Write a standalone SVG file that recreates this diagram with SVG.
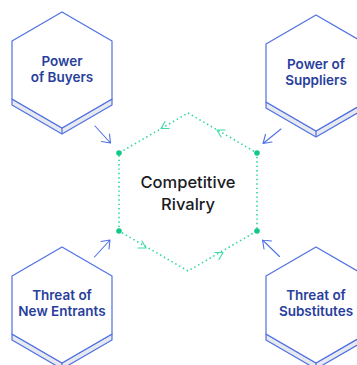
<svg xmlns="http://www.w3.org/2000/svg" width="357" height="365" viewBox="0 0 357 365">
  <style>
    .hex { fill: #ffffff; stroke: #4f71e3; stroke-width: 1.2; stroke-linejoin: round; }
    .base { fill: #e7e9ef; stroke: #4f71e3; stroke-width: 1.2; stroke-linejoin: round; }
    .label { font-family: Inter, "Liberation Sans", sans-serif; font-size: 13.5px; font-weight: 600; fill: #283e9c; text-anchor: middle; }
    .title { font-family: Inter, "Liberation Sans", sans-serif; font-size: 16.5px; font-weight: 500; fill: #1b1b1f; text-anchor: middle; }
    .ring { fill: none; stroke: #27d69d; stroke-width: 1.6; stroke-dasharray: 1.4 3; stroke-linecap: butt; }
    .chev { fill: none; stroke: #3ddba6; stroke-width: 1.1; stroke-linecap: round; stroke-linejoin: round; }
    .force { fill: none; stroke: #4f71e3; stroke-width: 1.1; stroke-linecap: round; stroke-linejoin: round; }
    .dot { fill: #14c985; }
  </style>
  <defs>
    <!-- hexagon tile with a thin extruded base, centred on 0,0 -->
    <g id="tile">
      <polygon class="base" points="-50,29 0,58 50,29 50,35 0,64 -50,35"/>
      <line x1="0" y1="58" x2="0" y2="64" stroke="#4f71e3" stroke-width="1.2"/>
      <polygon class="hex" points="0,-58 50,-29 50,29 0,58 -50,29 -50,-29"/>
    </g>
    <!-- open chevron pointing along +x -->
    <path id="chevron" class="chev" d="M-7,-4 L0,0 L-7,4"/>
  </defs>

  <g id="buyers">
    <use href="#tile" transform="translate(62,70)"/>
    <text class="label" x="62" y="66">Power</text>
    <text class="label" x="62" y="82">of Buyers</text>
  </g>

  <g id="suppliers">
    <use href="#tile" transform="translate(316,73)"/>
    <text class="label" x="316" y="69">Power of</text>
    <text class="label" x="316" y="85">Suppliers</text>
  </g>

  <g id="new-entrants">
    <use href="#tile" transform="translate(62,305)"/>
    <text class="label" x="62" y="300">Threat of</text>
    <text class="label" x="62" y="316">New Entrants</text>
  </g>

  <g id="substitutes">
    <use href="#tile" transform="translate(316,305)"/>
    <text class="label" x="316" y="300">Threat of</text>
    <text class="label" x="316" y="316">Substitutes</text>
  </g>

  <g id="rivalry">
    <polygon class="ring" points="188,113 257,153 257,231 188,271 119,231 119,153"/>
    <circle class="dot" cx="119" cy="153" r="2.8"/>
    <circle class="dot" cx="257" cy="153" r="2.8"/>
    <circle class="dot" cx="119" cy="231" r="2.8"/>
    <circle class="dot" cx="257" cy="231" r="2.8"/>
    <text class="title" x="188" y="187.5">Competitive</text>
    <text class="title" x="188" y="209.5">Rivalry</text>
  </g>

  <g id="connectors">
    <!-- flow markers around the rivalry ring -->
    <use href="#chevron" transform="translate(161,128.5) rotate(150)"/>
    <use href="#chevron" transform="translate(217,130) rotate(210)"/>
    <use href="#chevron" transform="translate(146,248) rotate(30)"/>
    <use href="#chevron" transform="translate(223,252.5) rotate(-30)"/>
    <!-- forces pointing at the ring -->
    <path class="force" d="M95,126 L110.5,143 M101.5,141.5 L110.5,143 L109.5,134"/>
    <path class="force" d="M281,129 L263,143.5 M265.5,134.5 L263,143.5 L272,142"/>
    <path class="force" d="M94.5,257 L110,240 M101,241.5 L110,240 L109,249"/>
    <path class="force" d="M279.5,256.5 L262.5,240 M271.5,241 L262.5,240 L264,249"/>
  </g>
</svg>
